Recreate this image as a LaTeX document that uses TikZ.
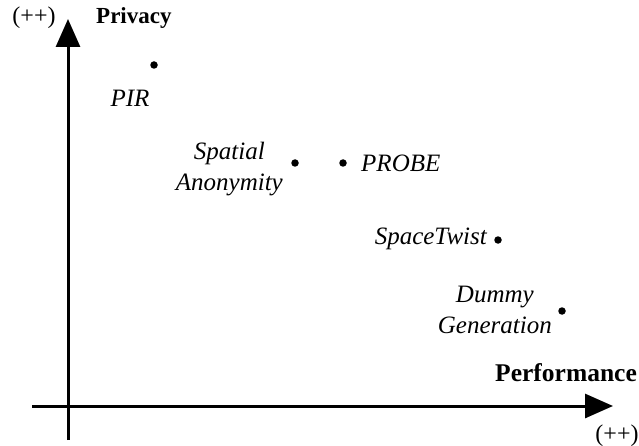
\documentclass[tikz,border=0pt]{standalone}
\usepackage{fontspec}
\setmainfont{Liberation Serif}
\usetikzlibrary{arrows.meta}
\begin{document}
\begin{tikzpicture}[x=1pt,y=-1pt,
  axis/.style={line width=3pt,-{Triangle[length=28pt,width=24pt]}},
  pt/.style={circle,fill=black,inner sep=0pt,minimum size=7.5pt},
  lbl/.style={font=\fontsize{25}{31}\selectfont\itshape,inner sep=0pt,align=center},
  ttl/.style={font=\fontsize{23}{27}\selectfont\bfseries,inner sep=0pt},
  pp/.style={font=\fontsize{24}{28}\selectfont,inner sep=0pt}]
\useasboundingbox (0,0) rectangle (639,446);
\coordinate (ys) at (68,440);
\coordinate (ye) at (68,19);
\coordinate (xs) at (32,406);
\coordinate (xe) at (613,406);
\draw[axis] (ys) -- (ye);
\draw[axis] (xs) -- (xe);
\node[pp] (ppy) at (34,18) {(++)};
\node[ttl,anchor=west] (priv) at (96,18) {Privacy};
\node[ttl,anchor=east,font=\fontsize{25.5}{30}\selectfont\bfseries] (perf) at (637,373) {Performance};
\node[pp] (ppx) at (617,436) {(++)};
\node[pt] (pir) at (154,65) {};
\node[lbl] (pirl) at (130,98) {PIR};
\node[pt] (sa) at (295,163) {};
\node[lbl,anchor=east] (sal) at (283,169) {Spatial\\Anonymity};
\node[pt] (probe) at (343,163) {};
\node[lbl,anchor=west] (probel) at (361,163) {PROBE};
\node[pt] (st) at (498,240) {};
\node[lbl,anchor=east] (stl) at (487,239) {SpaceTwist};
\node[pt] (dg) at (562,311) {};
\node[lbl,anchor=east] (dgl) at (552,310) {Dummy\\Generation};
\end{tikzpicture}
\end{document}
